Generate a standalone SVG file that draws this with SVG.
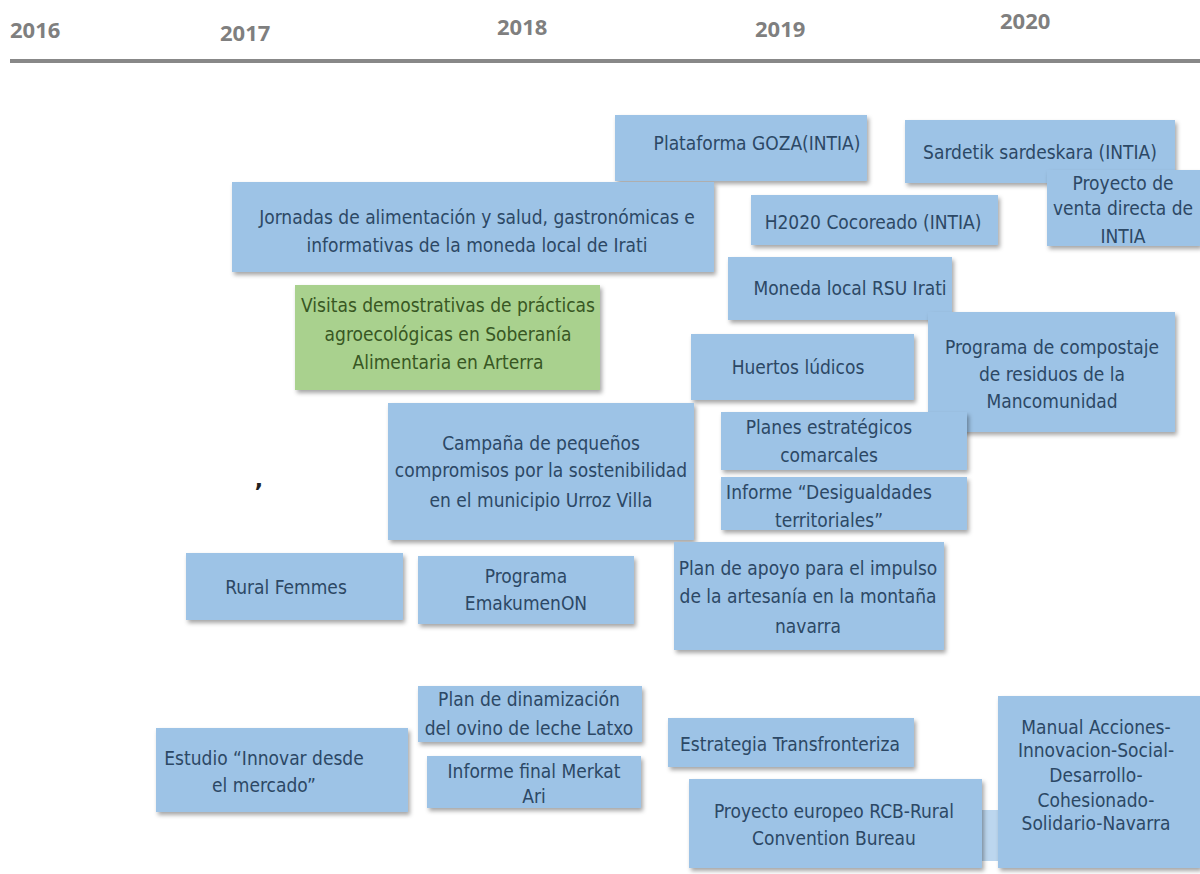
<svg xmlns="http://www.w3.org/2000/svg" width="1200" height="874" viewBox="0 0 1200 874">
<defs>
<filter id="sh" x="-10%" y="-10%" width="120%" height="130%">
<feDropShadow dx="2" dy="3" stdDeviation="2" flood-color="#000" flood-opacity="0.35"/>
</filter>
<style>
.yr{font-family:"Open Sans","DejaVu Sans",sans-serif;font-weight:bold;font-size:22px;fill:#7f7f7f}
.b{fill:#9dc3e6;filter:url(#sh)}
.g{fill:#a9d18e;filter:url(#sh)}
.t{font-family:"Liberation Sans Narrow","DejaVu Sans Condensed","Liberation Sans",sans-serif;font-stretch:condensed;font-size:19px;fill:#2c4865;text-anchor:middle}
.tg{fill:#385723}
</style>
</defs>
<rect width="1200" height="874" fill="#ffffff"/>
<g id="timeline">
<line x1="10" y1="61" x2="1200" y2="61" stroke="#888888" stroke-width="4"/>
<text class="yr" x="10" y="38">2016</text>
<text class="yr" x="220" y="41">2017</text>
<text class="yr" x="497" y="35">2018</text>
<text class="yr" x="755" y="37">2019</text>
<text class="yr" x="1000" y="29">2020</text>
</g>
<g id="connectors">
<rect x="982" y="810" width="16" height="51" fill="#bcd6ee"/>
</g>
<g id="n-goza"><rect class="b" x="615" y="115" width="252" height="66"/><text class="t" x="757" y="150">Plataforma GOZA(INTIA)</text></g>
<g id="n-sardetik"><rect class="b" x="905" y="120" width="270" height="63"/><text class="t" x="1040" y="159">Sardetik sardeskara (INTIA)</text></g>
<g id="n-jornadas"><rect class="b" x="232" y="182" width="482" height="90"/><text class="t" x="477" y="224">Jornadas de alimentación y salud, gastronómicas e</text><text class="t" x="477" y="252">informativas de la moneda local de Irati</text></g>
<g id="n-venta"><rect class="b" x="1047" y="170" width="153" height="76"/><text class="t" x="1123" y="190">Proyecto de</text><text class="t" x="1123" y="215">venta directa de</text><text class="t" x="1123" y="243">INTIA</text></g>
<g id="n-h2020"><rect class="b" x="751" y="195" width="247" height="50"/><text class="t" x="873" y="229">H2020 Cocoreado (INTIA)</text></g>
<g id="n-moneda"><rect class="b" x="728" y="257" width="224" height="63"/><text class="t" x="850" y="295">Moneda local RSU Irati</text></g>
<g id="n-visitas"><rect class="g" x="295" y="285" width="305" height="105"/><text class="t tg" x="448" y="312">Visitas demostrativas de prácticas</text><text class="t tg" x="448" y="341">agroecológicas en Soberanía</text><text class="t tg" x="448" y="369">Alimentaria en Arterra</text></g>
<g id="n-huertos"><rect class="b" x="691" y="334" width="223" height="66"/><text class="t" x="798" y="374">Huertos lúdicos</text></g>
<g id="n-compostaje"><rect class="b" x="928" y="312" width="247" height="120"/><text class="t" x="1052" y="354">Programa de compostaje</text><text class="t" x="1052" y="381">de residuos de la</text><text class="t" x="1052" y="408">Mancomunidad</text></g>
<g id="n-campana"><rect class="b" x="388" y="403" width="306" height="137"/><text class="t" x="541" y="450">Campaña de pequeños</text><text class="t" x="541" y="477">compromisos por la sostenibilidad</text><text class="t" x="541" y="507">en el municipio Urroz Villa</text></g>
<g id="n-planes"><rect class="b" x="721" y="412" width="246" height="58"/><text class="t" x="829" y="434">Planes estratégicos</text><text class="t" x="829" y="462">comarcales</text></g>
<g id="n-desigualdades"><rect class="b" x="721" y="477" width="246" height="53"/><text class="t" x="829" y="499">Informe “Desigualdades</text><text class="t" x="829" y="527">territoriales”</text></g>
<g id="n-comma"><text x="259" y="487" font-family="DejaVu Sans, sans-serif" font-weight="bold" font-size="22" fill="#222222" text-anchor="middle">,</text></g>
<g id="n-rural"><rect class="b" x="186" y="553" width="217" height="67"/><text class="t" x="286" y="594">Rural Femmes</text></g>
<g id="n-emakumen"><rect class="b" x="418" y="556" width="216" height="68"/><text class="t" x="526" y="583">Programa</text><text class="t" x="526" y="610">EmakumenON</text></g>
<g id="n-artesania"><rect class="b" x="674" y="542" width="270" height="108"/><text class="t" x="808" y="575">Plan de apoyo para el impulso</text><text class="t" x="808" y="603">de la artesanía en la montaña</text><text class="t" x="808" y="633">navarra</text></g>
<g id="n-latxo"><rect class="b" x="418" y="686" width="224" height="56"/><text class="t" x="529" y="706">Plan de dinamización</text><text class="t" x="529" y="735">del ovino de leche Latxo</text></g>
<g id="n-estudio"><rect class="b" x="156" y="728" width="252" height="84"/><text class="t" x="264" y="765">Estudio “Innovar desde</text><text class="t" x="264" y="792">el mercado”</text></g>
<g id="n-merkat"><rect class="b" x="427" y="756" width="214" height="52"/><text class="t" x="534" y="778">Informe final Merkat</text><text class="t" x="534" y="803">Ari</text></g>
<g id="n-transfronteriza"><rect class="b" x="668" y="718" width="246" height="49"/><text class="t" x="790" y="751">Estrategia Transfronteriza</text></g>
<g id="n-rcb"><rect class="b" x="689" y="779" width="293" height="89"/><text class="t" x="834" y="818">Proyecto europeo RCB-Rural</text><text class="t" x="834" y="845">Convention Bureau</text></g>
<g id="n-manual"><rect class="b" x="998" y="696" width="202" height="172"/><text class="t" x="1096" y="734">Manual Acciones-</text><text class="t" x="1096" y="757">Innovacion-Social-</text><text class="t" x="1096" y="782">Desarrollo-</text><text class="t" x="1096" y="807">Cohesionado-</text><text class="t" x="1096" y="830">Solidario-Navarra</text></g>
</svg>
